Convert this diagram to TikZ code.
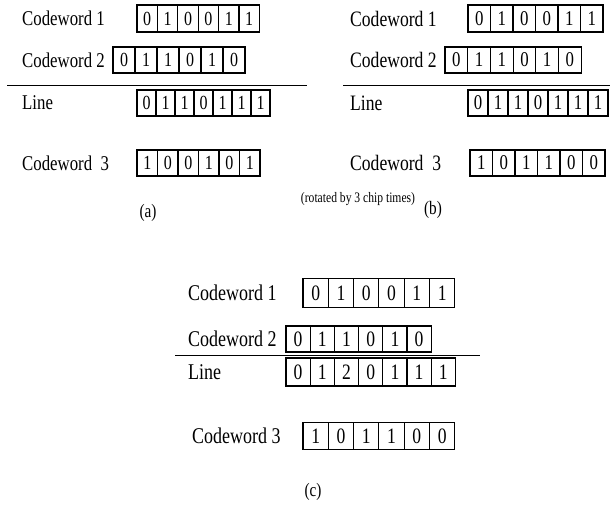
\documentclass[tikz,border=0pt]{standalone}
\usepackage{fontspec}
\setmainfont{Liberation Serif}
\newcommand{\cnd}[1]{\scalebox{0.8}[1]{#1}}
\newcommand{\cwrow}[7]{%
  \foreach \d [count=\i] in {#7} {
    \node[cell, minimum width=#4pt, minimum height=#5pt, font=\fontsize{#6}{#6}\selectfont]
      (#1-\i) at ({#2+(\i-0.5)*#4}, #3) {\cnd{\d}};
  }%
}
\begin{document}
\begin{tikzpicture}[x=1pt,y=-1pt,
  cell/.style={draw=black, line width=1.1pt, inner sep=0pt},
  lbl/.style={anchor=west, inner sep=0pt},
  captxt/.style={inner sep=0pt, font=\fontsize{19}{19}\selectfont},
  sepline/.style={line width=1pt}]
\useasboundingbox (0,0) rectangle (610,509);
% ---------- panel (a)
\node[lbl, font=\fontsize{21}{21}\selectfont] (a1) at (22,18.5) {\cnd{Codeword 1}};
\node[lbl, font=\fontsize{21}{21}\selectfont] (a2) at (22,60) {\cnd{Codeword 2}};
\node[lbl, font=\fontsize{21}{21}\selectfont] (aL) at (22,103) {\cnd{Line}};
\node[lbl, font=\fontsize{21}{21}\selectfont] (a3) at (22,163) {\cnd{Codeword\hspace{0.5em}3}};
\cwrow{ac1}{137}{18.5}{20.4}{27}{20}{0,1,0,0,1,1}
\cwrow{ac2}{113}{60}{22}{26}{20}{0,1,1,0,1,0}
\cwrow{acL}{137}{103}{19}{26}{20}{0,1,1,0,1,1,1}
\cwrow{ac3}{137}{163}{20.5}{26}{20}{1,0,0,1,0,1}
\coordinate (asl) at (7,85);
\coordinate (asr) at (307,85);
\draw[sepline] (asl) -- (asr);
\node[captxt] (capa) at (148,213) {\cnd{(a)}};
% ---------- panel (b)
\node[lbl, font=\fontsize{22}{22}\selectfont] (b1) at (350,18.5) {\cnd{Codeword 1}};
\node[lbl, font=\fontsize{22}{22}\selectfont] (b2) at (350,60) {\cnd{Codeword 2}};
\node[lbl, font=\fontsize{22}{22}\selectfont] (bL) at (350,103) {\cnd{Line}};
\node[lbl, font=\fontsize{22}{22}\selectfont] (b3) at (350,163) {\cnd{Codeword\hspace{0.5em}3}};
\cwrow{bc1}{468}{18.5}{22.5}{27}{21}{0,1,0,0,1,1}
\cwrow{bc2}{445}{60}{22.7}{26}{21}{0,1,1,0,1,0}
\cwrow{bcL}{468}{103}{20}{26}{21}{0,1,1,0,1,1,1}
\cwrow{bc3}{470}{163}{22.5}{26}{21}{1,0,1,1,0,0}
\coordinate (bsl) at (343,85);
\coordinate (bsr) at (610,85);
\draw[sepline] (bsl) -- (bsr);
\node[inner sep=0pt, font=\fontsize{14.5}{14.5}\selectfont] (rot) at (358,199) {\cnd{(rotated by 3 chip times)}};
\node[captxt] (capb) at (433,210) {\cnd{(b)}};
% ---------- panel (c)
\node[lbl, font=\fontsize{22.5}{22.5}\selectfont] (c1) at (188,293) {\cnd{Codeword 1}};
\node[lbl, font=\fontsize{22.5}{22.5}\selectfont] (c2) at (188,339) {\cnd{Codeword 2}};
\node[lbl, font=\fontsize{22.5}{22.5}\selectfont] (cL) at (188,372) {\cnd{Line}};
\node[lbl, font=\fontsize{22.5}{22.5}\selectfont] (c3) at (192,436) {\cnd{Codeword 3}};
\cwrow{cc1}{303}{293}{25.3}{29}{22}{0,1,0,0,1,1}
\cwrow{cc2}{286}{339}{24.2}{26}{22}{0,1,1,0,1,0}
\cwrow{ccL}{286}{372}{24.2}{28}{22}{0,1,2,0,1,1,1}
\cwrow{cc3}{303}{436}{25.3}{27}{22}{1,0,1,1,0,0}
\coordinate (csl) at (175,355);
\coordinate (csr) at (480,355);
\draw[sepline] (csl) -- (csr);
\node[captxt] (capc) at (313,492) {\cnd{(c)}};
\end{tikzpicture}
\end{document}
